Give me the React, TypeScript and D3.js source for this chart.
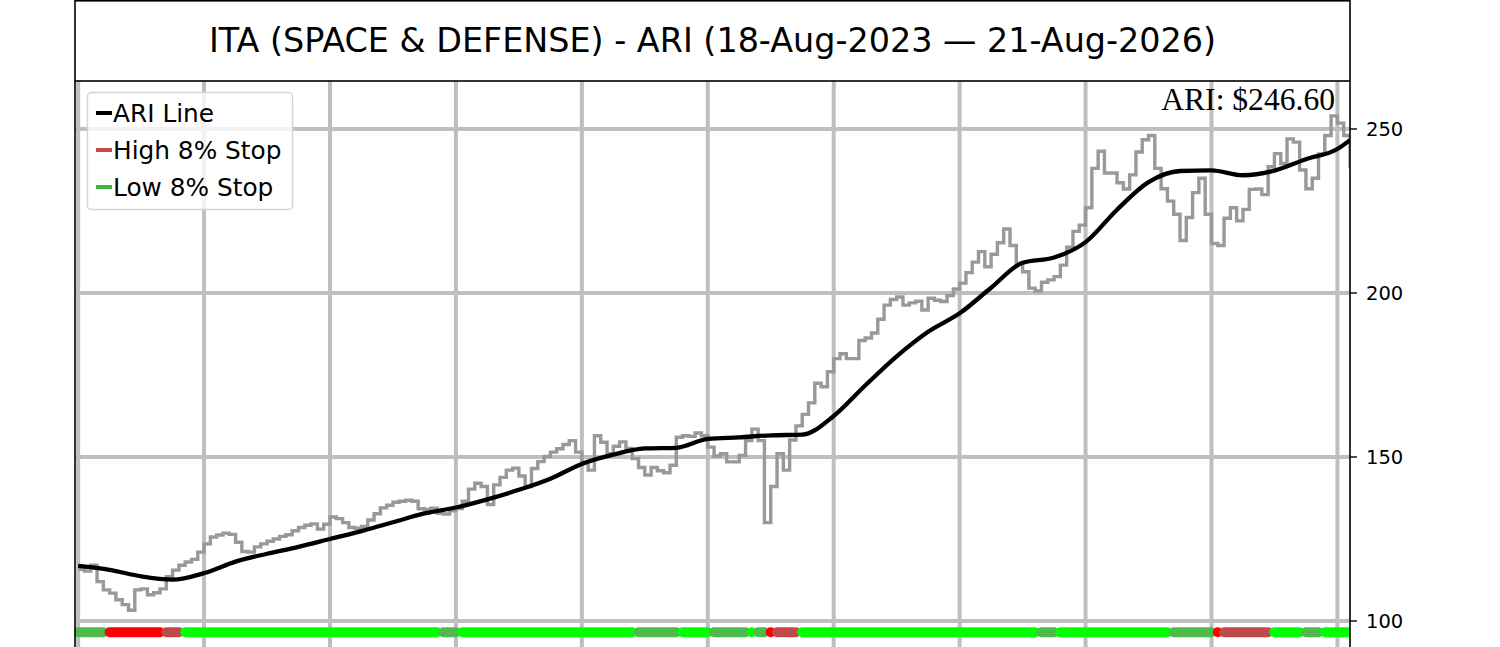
import React, { useRef, useEffect } from 'react';
import { select, scaleLinear, line, curveStepAfter, curveMonotoneX } from 'd3';

// closing prices, one every ~4 sessions
const priceValues = [
    115.8, 115.2, 117, 112, 109.5, 108.5, 106.5, 105, 103.3, 109.5,
    109.8, 108, 108.6, 109.8, 113.5, 115.5, 117, 118, 118.8, 121,
    123.5, 125.6, 126.2, 126.8, 126.4, 124, 121.2, 121, 122.6, 123.5,
    124.3, 125, 125.8, 126.3, 127.5, 128.5, 129.2, 129.6, 128, 129.5,
    131.7, 131.2, 130, 128.5, 128.3, 128.8, 130.8, 132.7, 134.5, 135.3,
    136.2, 136.5, 136.8, 136.5, 134.2, 134, 134.4, 132.8, 132.6, 133.6,
    134.3, 136.5, 140.2, 142, 141, 135.5, 141.5, 143.8, 146, 146.6,
    144.2, 141, 146.5, 148.6, 150.2, 151.5, 152.5, 153.8, 155, 151.5,
    148.2, 146, 156.5, 154.5, 151, 153.3, 154.6, 152.6, 149.5, 146.8,
    144.5, 146.8, 145.8, 145.2, 147.5, 156, 156.5, 156.3, 157.3, 156.5,
    153, 150.3, 151, 148.5, 148.5, 150.5, 155, 158.5, 155, 130,
    141, 151, 146, 155.2, 159.5, 163, 166.5, 172.5, 171.4, 176,
    180, 181.5, 180, 180, 185.5, 186.3, 187.8, 192, 196.3, 198,
    198.8, 196.3, 197, 197.5, 194.8, 198.4, 197.8, 197.4, 199.2, 201.2,
    203, 206.2, 209.4, 212.6, 208, 211.8, 215.3, 219.5, 214.5, 209,
    206.5, 201.5, 200.6, 203.3, 204, 205, 208.5, 214, 218.8, 220.7,
    226, 238, 243.2, 236.6, 236.6, 233.6, 231.7, 236, 243, 246.7,
    248, 238, 231.8, 228, 224, 216, 223, 230.6, 235, 224,
    215.1, 214.5, 222.8, 226, 222, 225.5, 231.6, 231.7, 230, 238.5,
    242.5, 239.5, 247, 246, 237.5, 231.8, 235, 242.4, 248, 254,
    251.8, 248, 238,
];

// ARI line, read every 5 points
const ariIdx = [
    0, 5, 10, 15, 20, 25, 30, 35, 40, 45, 50, 55, 60, 65, 70, 75, 80, 85, 90, 95,
    100, 105, 110, 115, 120, 125, 130, 135, 140, 145, 150, 155, 160, 165, 170, 175,
    180, 185, 190, 195, 200, 202,
];
const ariValues = [
    116.8, 115.6, 113.6, 112.6, 114.6, 118.1, 120.5, 122.6, 125.0, 127.4,
    130.1, 132.8, 134.6, 137.1, 140.0, 143.4, 147.9, 150.7, 152.6, 152.8,
    155.5, 156.0, 156.6, 156.8, 162.5, 171.8, 180.7, 188.2, 193.8, 201.6,
    209.2, 210.8, 215.5, 225.4, 233.8, 237.2, 237.4, 235.9, 237.3, 240.8,
    243.9, 246.6,
];

// stop state runs: g = low stop, G = low stop (fresh), r = high stop, R = high stop (fresh)
const stopFrom = [0, 5, 14, 17, 58, 61, 89, 96, 101, 107, 108, 110, 111, 115, 153, 156, 174, 181, 182, 190, 195, 198];
const stopTo = [4, 13, 16, 57, 60, 88, 95, 100, 106, 107, 109, 110, 114, 152, 155, 173, 180, 181, 189, 194, 197, 202];
const stopKind = ['g', 'R', 'r', 'G', 'g', 'G', 'g', 'G', 'g', 'G', 'g', 'R', 'r', 'G', 'g', 'G', 'g', 'R', 'r', 'G', 'g', 'G'];
const stopLevel = 96.55;

const yTicks = [100, 150, 200, 250];
const xGrid = [0, 20, 40, 60, 80, 100, 120, 140, 160, 180, 200];
const legendLabels = ['ARI Line', 'High 8% Stop', 'Low 8% Stop'];

const title = 'ITA (SPACE & DEFENSE) - ARI (18-Aug-2023 \u2014 21-Aug-2026)';

const stopColors: { [k: string]: string } = {
    g: '#4cbb4c',
    G: '#00ff00',
    r: '#c04a4a',
    R: '#ff0000',
};
const legendColors = ['#000000', '#c04a4a', '#3cb83c'];

export default function App() {
    const svgRef: { current: SVGSVGElement | null } = useRef(null);

    useEffect(() => {
        const width = 1500;
        const height = 647;
        const left = 75;
        const right = 1350;
        const top = 81;

        const svg = select(svgRef.current);
        svg.selectAll('*').remove();

        const x = scaleLinear().domain([-0.5, 202]).range([left, right]);
        const y = scaleLinear().domain([100, 250]).range([621, 129]);

        svg.append('rect').attr('width', width).attr('height', height).attr('fill', '#fff');

        svg.append('clipPath')
            .attr('id', 'plot-clip')
            .append('rect')
            .attr('x', left)
            .attr('y', top)
            .attr('width', right - left)
            .attr('height', height - top + 20);

        const plot = svg.append('g').attr('clip-path', 'url(#plot-clip)');

        // grid
        plot.selectAll('.hgrid')
            .data(yTicks)
            .join('line')
            .attr('class', 'hgrid')
            .attr('x1', left)
            .attr('x2', right)
            .attr('y1', (d) => y(d))
            .attr('y2', (d) => y(d))
            .attr('stroke', '#bfbfbf')
            .attr('stroke-width', 4);
        plot.selectAll('.vgrid')
            .data(xGrid)
            .join('line')
            .attr('class', 'vgrid')
            .attr('x1', (d) => x(d))
            .attr('x2', (d) => x(d))
            .attr('y1', top)
            .attr('y2', height + 10)
            .attr('stroke', '#bfbfbf')
            .attr('stroke-width', 4);

        // price
        const priceLine = line<number>()
            .x((d, i) => x(i))
            .y((d) => y(d))
            .curve(curveStepAfter);
        plot.append('path')
            .attr('d', priceLine(priceValues) as string)
            .attr('fill', 'none')
            .attr('stroke', '#999999')
            .attr('stroke-width', 3.4);

        // ARI
        const ariLine = line<number>()
            .x((d, i) => x(ariIdx[i]))
            .y((d) => y(d))
            .curve(curveMonotoneX);
        plot.append('path')
            .attr('d', ariLine(ariValues) as string)
            .attr('fill', 'none')
            .attr('stroke', '#000')
            .attr('stroke-width', 4.3);

        // stop strip
        const r = 5;
        plot.selectAll('.stop')
            .data(stopKind)
            .join('rect')
            .attr('class', 'stop')
            .attr('x', (d, i) => x(stopFrom[i]) - r)
            .attr('width', (d, i) => x(stopTo[i]) - x(stopFrom[i]) + 2 * r)
            .attr('y', y(stopLevel) - r)
            .attr('height', 2 * r)
            .attr('rx', r)
            .attr('fill', (d) => stopColors[d]);

        // spines
        svg.append('line')
            .attr('x1', left).attr('x2', left)
            .attr('y1', top).attr('y2', height)
            .attr('stroke', '#000').attr('stroke-width', 1.6);
        svg.append('line')
            .attr('x1', right).attr('x2', right)
            .attr('y1', top).attr('y2', height)
            .attr('stroke', '#000').attr('stroke-width', 1.6);

        // y axis on the right
        const ticks = svg.selectAll('.ytick').data(yTicks).join('g').attr('class', 'ytick');
        ticks.append('line')
            .attr('x1', right).attr('x2', right + 7)
            .attr('y1', (d) => y(d)).attr('y2', (d) => y(d))
            .attr('stroke', '#000').attr('stroke-width', 1.4);
        ticks.append('text')
            .attr('x', right + 16)
            .attr('y', (d) => y(d))
            .attr('dy', '0.36em')
            .attr('font-family', 'DejaVu Sans')
            .attr('font-size', 19.5)
            .text((d) => String(d));

        // title box
        svg.append('rect')
            .attr('x', left).attr('y', 0.8)
            .attr('width', right - left).attr('height', top - 0.8)
            .attr('fill', '#fff')
            .attr('stroke', '#000').attr('stroke-width', 1.6);
        svg.append('text')
            .attr('x', (left + right) / 2)
            .attr('y', 52)
            .attr('text-anchor', 'middle')
            .attr('font-family', 'DejaVu Sans')
            .attr('font-size', 33.4)
            .text(title);

        // last ARI value
        svg.append('text')
            .attr('x', 1335)
            .attr('y', 110)
            .attr('text-anchor', 'end')
            .attr('font-family', 'Liberation Serif')
            .attr('font-size', 31.6)
            .text(`ARI: $${ariValues[ariValues.length - 1].toFixed(2)}`);

        // legend
        const lg = svg.append('g');
        lg.append('rect')
            .attr('x', 87.5).attr('y', 92.5)
            .attr('width', 205).attr('height', 117)
            .attr('rx', 4)
            .attr('fill', '#fff').attr('fill-opacity', 0.8)
            .attr('stroke', '#d4d4d4').attr('stroke-width', 1.4);
        const rows = lg.selectAll('.lrow').data(legendLabels).join('g').attr('class', 'lrow')
            .attr('transform', (d, i) => `translate(0, ${113 + i * 37})`);
        rows.append('line')
            .attr('x1', 96).attr('x2', 112)
            .attr('stroke', (d, i) => legendColors[i])
            .attr('stroke-width', 4);
        rows.append('text')
            .attr('x', 113)
            .attr('dy', '0.36em')
            .attr('font-family', 'DejaVu Sans')
            .attr('font-size', 24.8)
            .text((d) => d);
    }, []);

    return (
        <div style={{ position: 'absolute', left: 0, top: 0, width: 1500, height: 647, overflow: 'hidden' }}>
            <svg ref={svgRef} width={1500} height={647} style={{ display: 'block' }}></svg>
        </div>
    );
}
